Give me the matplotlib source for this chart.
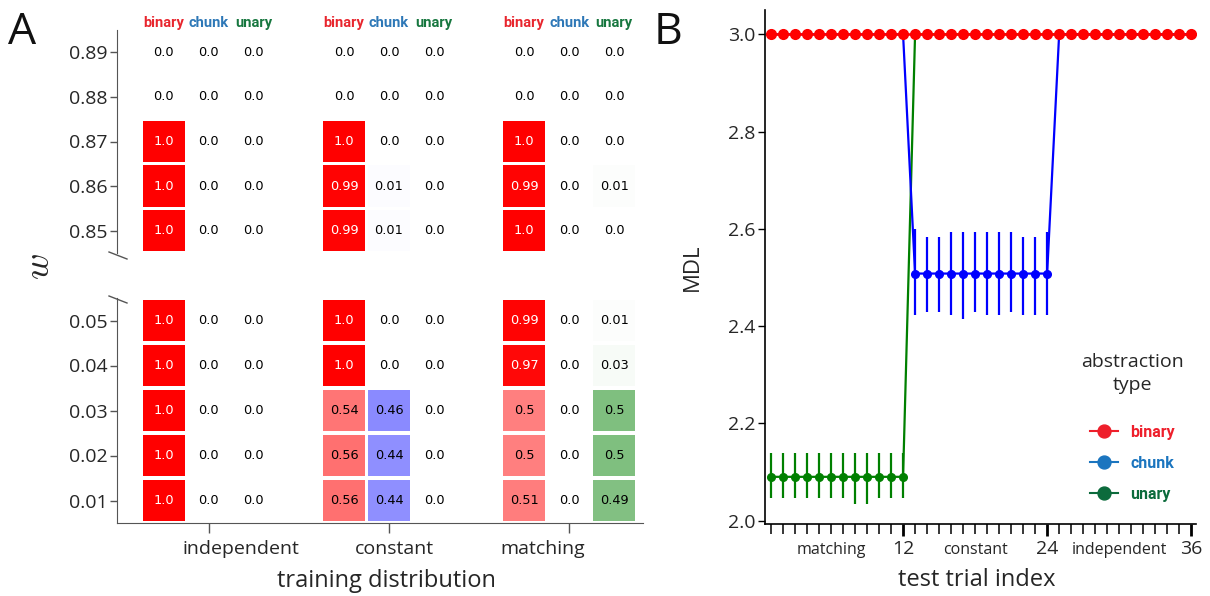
import matplotlib
matplotlib.use('Agg')
import matplotlib.pyplot as plt
from matplotlib.lines import Line2D
from matplotlib import font_manager
import matplotlib.transforms as mtransforms

# ---------------- data ----------------
w_rows_top = ['0.89', '0.88', '0.87', '0.86', '0.85']
w_rows_bottom = ['0.05', '0.04', '0.03', '0.02', '0.01']
distributions = ['independent', 'constant', 'matching']
abstraction_types = ['binary', 'chunk', 'unary']

# rows ordered: 0.89, 0.88, 0.87, 0.86, 0.85, 0.05, 0.04, 0.03, 0.02, 0.01
independent_binary = [0.0, 0.0, 1.0, 1.0, 1.0, 1.0, 1.0, 1.0, 1.0, 1.0]
independent_chunk = [0.0, 0.0, 0.0, 0.0, 0.0, 0.0, 0.0, 0.0, 0.0, 0.0]
independent_unary = [0.0, 0.0, 0.0, 0.0, 0.0, 0.0, 0.0, 0.0, 0.0, 0.0]
constant_binary = [0.0, 0.0, 1.0, 0.99, 0.99, 1.0, 1.0, 0.54, 0.56, 0.56]
constant_chunk = [0.0, 0.0, 0.0, 0.01, 0.01, 0.0, 0.0, 0.46, 0.44, 0.44]
constant_unary = [0.0, 0.0, 0.0, 0.0, 0.0, 0.0, 0.0, 0.0, 0.0, 0.0]
matching_binary = [0.0, 0.0, 1.0, 0.99, 1.0, 0.99, 0.97, 0.5, 0.5, 0.51]
matching_chunk = [0.0, 0.0, 0.0, 0.0, 0.0, 0.0, 0.0, 0.0, 0.0, 0.0]
matching_unary = [0.0, 0.0, 0.0, 0.01, 0.0, 0.01, 0.03, 0.5, 0.5, 0.49]

test_blocks = ['matching', 'constant', 'independent']
block_ends = [12, 24, 36]
trials = [1, 2, 3, 4, 5, 6, 7, 8, 9, 10, 11, 12,
          13, 14, 15, 16, 17, 18, 19, 20, 21, 22, 23, 24,
          25, 26, 27, 28, 29, 30, 31, 32, 33, 34, 35, 36]

mdl_binary = [3.0, 3.0, 3.0, 3.0, 3.0, 3.0, 3.0, 3.0, 3.0, 3.0, 3.0, 3.0,
              3.0, 3.0, 3.0, 3.0, 3.0, 3.0, 3.0, 3.0, 3.0, 3.0, 3.0, 3.0,
              3.0, 3.0, 3.0, 3.0, 3.0, 3.0, 3.0, 3.0, 3.0, 3.0, 3.0, 3.0]
mdl_chunk = [3.0, 3.0, 3.0, 3.0, 3.0, 3.0, 3.0, 3.0, 3.0, 3.0, 3.0, 3.0,
             2.508, 2.508, 2.508, 2.508, 2.508, 2.508, 2.508, 2.508, 2.508, 2.508, 2.508, 2.508,
             3.0, 3.0, 3.0, 3.0, 3.0, 3.0, 3.0, 3.0, 3.0, 3.0, 3.0, 3.0]
mdl_chunk_low = [3.0, 3.0, 3.0, 3.0, 3.0, 3.0, 3.0, 3.0, 3.0, 3.0, 3.0, 3.0,
                 2.422, 2.428, 2.428, 2.422, 2.414, 2.428, 2.422, 2.422, 2.428, 2.422, 2.422, 2.422,
                 3.0, 3.0, 3.0, 3.0, 3.0, 3.0, 3.0, 3.0, 3.0, 3.0, 3.0, 3.0]
mdl_chunk_high = [3.0, 3.0, 3.0, 3.0, 3.0, 3.0, 3.0, 3.0, 3.0, 3.0, 3.0, 3.0,
                  2.599, 2.584, 2.584, 2.593, 2.593, 2.593, 2.593, 2.593, 2.593, 2.584, 2.584, 2.593,
                  3.0, 3.0, 3.0, 3.0, 3.0, 3.0, 3.0, 3.0, 3.0, 3.0, 3.0, 3.0]
mdl_unary = [2.09, 2.09, 2.09, 2.09, 2.09, 2.09, 2.09, 2.09, 2.09, 2.09, 2.09, 2.09,
             3.0, 3.0, 3.0, 3.0, 3.0, 3.0, 3.0, 3.0, 3.0, 3.0, 3.0, 3.0,
             3.0, 3.0, 3.0, 3.0, 3.0, 3.0, 3.0, 3.0, 3.0, 3.0, 3.0, 3.0]
mdl_unary_low = [2.047, 2.047, 2.047, 2.047, 2.047, 2.047, 2.047, 2.035, 2.035, 2.047, 2.047, 2.047,
                 3.0, 3.0, 3.0, 3.0, 3.0, 3.0, 3.0, 3.0, 3.0, 3.0, 3.0, 3.0,
                 3.0, 3.0, 3.0, 3.0, 3.0, 3.0, 3.0, 3.0, 3.0, 3.0, 3.0, 3.0]
mdl_unary_high = [2.138, 2.138, 2.138, 2.138, 2.138, 2.138, 2.138, 2.138, 2.138, 2.138, 2.138, 2.138,
                  3.0, 3.0, 3.0, 3.0, 3.0, 3.0, 3.0, 3.0, 3.0, 3.0, 3.0, 3.0,
                  3.0, 3.0, 3.0, 3.0, 3.0, 3.0, 3.0, 3.0, 3.0, 3.0, 3.0, 3.0]
mdl_yticks = [2.0, 2.2, 2.4, 2.6, 2.8, 3.0]

# ---------------- style ----------------
plt.rcParams['font.family'] = ['Open Sans', 'DejaVu Sans']
plt.rcParams['mathtext.fontset'] = 'cm'
names = {f.name for f in font_manager.fontManager.ttflist}
cond = 'Liberation Sans Narrow' if 'Liberation Sans Narrow' in names else 'Roboto'
cond_size = 11.5 if cond == 'Liberation Sans Narrow' else 10.5

cell_rgb = {'binary': (1.0, 0.0, 0.0), 'chunk': (0.0, 0.0, 1.0), 'unary': (0.0, 0.5, 0.0)}
header_colors = {'binary': '#e8262e', 'chunk': '#2e78b7', 'unary': '#17773f'}
legend_colors = ['#ee1f2b', '#1b75bf', '#0c6b3c']
line_colors = {'binary': '#ff0000', 'chunk': '#0000ff', 'unary': '#008000'}
txt_col = '#262626'
spine_col = '#555555'

W, H = 1210, 596
fig = plt.figure(figsize=(W / 100, H / 100), dpi=100)

def fr(x0, y0, x1, y1):
    return [x0 / W, 1 - y1 / H, (x1 - x0) / W, (y1 - y0) / H]

ax_top = fig.add_axes(fr(117, 30, 643, 253))
ax_bot = fig.add_axes(fr(117, 298, 643, 523))

data = {
    'independent': [independent_binary, independent_chunk, independent_unary],
    'constant': [constant_binary, constant_chunk, constant_unary],
    'matching': [matching_binary, matching_chunk, matching_unary],
}

cw = 0.93
for ax, rows, offset in [(ax_top, w_rows_top, 0), (ax_bot, w_rows_bottom, 5)]:
    n = len(rows)
    for g, dist in enumerate(distributions):
        for t, typ in enumerate(abstraction_types):
            vals = data[dist][t][offset:offset + n]
            x = 4 * g + t
            ys = [n - 1 - i for i in range(n)]
            cols = [cell_rgb[typ] + (v,) for v in vals]
            ax.bar([x] * n, [cw] * n, bottom=[y - cw / 2 for y in ys], width=cw,
                   color=cols, linewidth=0)
            for y, v in zip(ys, vals):
                ax.text(x, y, str(v), ha='center', va='center', fontsize=9.3,
                        family='DejaVu Sans',
                        color='white' if v > 0.75 else 'black')
    ax.set_yticks(range(n))
    ax.set_yticklabels(rows[::-1])
    ax.set_ylim(-0.5, n - 0.5)
    ax.set_xlim(-1.04, 10.64)
    for s in ['top', 'right']:
        ax.spines[s].set_visible(False)
    ax.spines['left'].set_color(spine_col)
    ax.spines['bottom'].set_color(spine_col)
    ax.tick_params(axis='y', length=5, width=1, color=spine_col, labelsize=14,
                   labelcolor=txt_col, pad=2)

ax_top.spines['bottom'].set_visible(False)
ax_top.set_xticks([])
ax_bot.set_xticks([4 * g + 1 for g in range(len(distributions))])
ax_bot.set_xticklabels([''] * len(distributions))
ax_bot.tick_params(axis='x', length=7, width=1, color=spine_col)
label_pos = [1.71, 5.11, 8.42]
for xp, d in zip(label_pos, distributions):
    ax_bot.text(xp, -0.138, d, transform=mtransforms.blended_transform_factory(ax_bot.transData, ax_bot.transAxes),
                ha='center', va='baseline', fontsize=14, color=txt_col)

for g in range(len(distributions)):
    for t, typ in enumerate(abstraction_types):
        ax_top.text(4 * g + t, 4.66, typ, ha='center', va='center', fontsize=cond_size,
                    family=cond, fontweight='bold', color=header_colors[typ])

# break marks
ax_top.plot([-8 / 526, 10 / 526], [1 / 223, -6 / 223], transform=ax_top.transAxes,
            color=spine_col, lw=1, clip_on=False)
ax_bot.plot([-8 / 526, 10 / 526], [1 + 2 / 225, 1 - 5 / 225], transform=ax_bot.transAxes,
            color=spine_col, lw=1, clip_on=False)

fig.text(386 / W, 1 - 587 / H, 'training distribution', ha='center', va='baseline',
         fontsize=17, color=txt_col)
fig.text(40 / W, 1 - 267 / H, '$w$', ha='center', va='center', rotation=90, fontsize=26,
         color=txt_col)
fig.text(8 / W, 1 - 44 / H, 'A', fontsize=32, color='#111111', va='baseline')
fig.text(654 / W, 1 - 44 / H, 'B', fontsize=32, color='#111111', va='baseline')

# ---------------- right panel ----------------
ax_r = fig.add_axes(fr(765, 10, 1196, 524))

def err(center, low, high):
    return [[c - l for c, l in zip(center, low)], [h - c for c, h in zip(center, high)]]

ax_r.errorbar(trials, mdl_unary, yerr=err(mdl_unary, mdl_unary_low, mdl_unary_high),
              fmt='-o', color=line_colors['unary'], ms=5.5, lw=1.6, elinewidth=1.6, capsize=0,
              zorder=2)
ax_r.errorbar(trials, mdl_chunk, yerr=err(mdl_chunk, mdl_chunk_low, mdl_chunk_high),
              fmt='-o', color=line_colors['chunk'], ms=5.5, lw=1.6, elinewidth=1.6, capsize=0,
              zorder=3)
ax_r.plot(trials, mdl_binary, '-o', color=line_colors['binary'], ms=7, lw=1.8, zorder=6)

ax_r.set_xlim(0.5, 36.4)
ax_r.set_ylim(1.993, 3.05)
ax_r.set_yticks(mdl_yticks)
ax_r.set_yticklabels([f'{v:.1f}' for v in mdl_yticks])
ax_r.set_xticks(block_ends)
ax_r.set_xticklabels([str(b) for b in block_ends])
ax_r.set_xticks(trials, minor=True)
for s in ['top', 'right']:
    ax_r.spines[s].set_visible(False)
for s in ['left', 'bottom']:
    ax_r.spines[s].set_linewidth(1.2)
ax_r.tick_params(axis='y', length=5, width=1, labelsize=14, labelcolor=txt_col, pad=2)
ax_r.tick_params(axis='x', which='major', length=8.6, width=2, labelsize=14,
                 labelcolor=txt_col, pad=3)
ax_r.tick_params(axis='x', which='minor', length=7, width=1.1)

tr = mtransforms.blended_transform_factory(ax_r.transData, ax_r.transAxes)
for name, end in zip(test_blocks, block_ends):
    ax_r.text(end - 6, -0.058, name, transform=tr, ha='center', va='baseline',
              fontsize=11.5, color=txt_col)

ax_r.set_ylabel('MDL', fontsize=16, color=txt_col, labelpad=18)
fig.text(977 / W, 1 - 586 / H, 'test trial index', ha='center', va='baseline',
         fontsize=17, color=txt_col)

handles = [Line2D([0], [0], color=c, marker='o', ms=9.3, lw=1.5) for c in legend_colors]
leg = ax_r.legend(handles, abstraction_types, title='abstraction\ntype', loc='upper center',
                  bbox_to_anchor=(0.853, 0.36), frameon=False, title_fontsize=14,
                  prop={'family': cond, 'weight': 'bold', 'size': cond_size + 1},
                  handlelength=1.7, labelspacing=1.0, handletextpad=0.8)
leg.get_title().set_multialignment('center')
leg.get_title().set_linespacing(1.35)
leg.get_title().set_color(txt_col)
leg._legend_box.sep = 22
for text, c in zip(leg.get_texts(), legend_colors):
    text.set_color(c)

fig.savefig('out.png', dpi=100)
